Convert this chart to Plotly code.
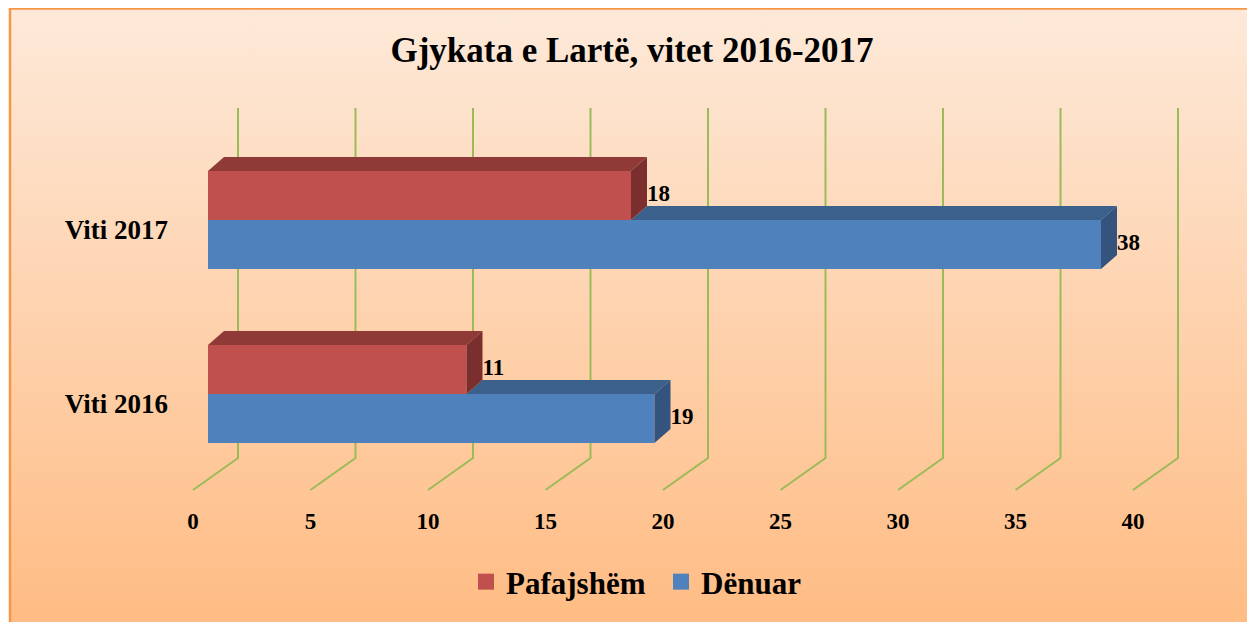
import base64
import plotly.graph_objects as go

# ---------------- data ----------------
categories = ["Viti 2016", "Viti 2017"]
series_names = ["Pafajshëm", "Dënuar"]
pafajshem = [11, 18]
denuar = [19, 38]
x_ticks = [0, 5, 10, 15, 20, 25, 30, 35, 40]
title_text = "Gjykata e Lartë, vitet 2016-2017"

# ---------------- style / geometry (page pixels) ----------------
OFF = 8                 # page body margin
W, H = 1255 - OFF, 622 - OFF
PX_PER_UNIT = 23.5      # horizontal pixels per value unit
X_ZERO_PX = 208         # page x of value 0 on bar front faces
Y_STEP_PX = 174         # pixels between category groups
Y_BASE_PX = 394         # page y of first group centre
L_PX = 175              # plot-area left edge (page)
B_PX = 505              # plot-area bottom edge (page)

RED, RED_TOP, RED_SIDE = "#C0504D", "#8F3A37", "#7A2E2D"
BLUE, BLUE_TOP, BLUE_SIDE = "#4F81BD", "#3C608C", "#34547D"
GRID = "#9BBB59"
FONT = "Liberation Serif"


def px_x(px):
    return (px - OFF) / W


def px_y(py):
    return 1 - (py - OFF) / H


def u_of(py):
    return (Y_BASE_PX - py) / Y_STEP_PX


bar_h = 49 / Y_STEP_PX
dx = 16 / PX_PER_UNIT
dy = 14 / Y_STEP_PX
grid_back = 30 / PX_PER_UNIT
grid_front = -15 / PX_PER_UNIT
grid_top_u, grid_back_u, grid_front_u = u_of(108), u_of(458), u_of(490)

x_range = [(L_PX - X_ZERO_PX) / PX_PER_UNIT, (1255 - X_ZERO_PX) / PX_PER_UNIT]
y_range = [u_of(B_PX), u_of(OFF)]

fig = go.Figure()

# front faces (bars)
pos = list(range(len(categories)))
fig.add_trace(go.Bar(orientation="h", x=denuar, y=[p - bar_h / 2 for p in pos],
                     width=bar_h, marker=dict(color=BLUE, line=dict(width=0)),
                     showlegend=False, hoverinfo="skip"))
fig.add_trace(go.Bar(orientation="h", x=pafajshem, y=[p + bar_h / 2 for p in pos],
                     width=bar_h, marker=dict(color=RED, line=dict(width=0)),
                     showlegend=False, hoverinfo="skip"))


def poly(xs, ys, color):
    fig.add_trace(go.Scatter(x=xs + [xs[0]], y=ys + [ys[0]], mode="lines",
                             fill="toself", fillcolor=color, line=dict(width=0, color=color),
                             showlegend=False, hoverinfo="skip"))


for p, r, b in zip(pos, pafajshem, denuar):
    tb = p                  # top of blue bar / bottom of red bar
    bb = p - bar_h          # bottom of blue bar
    tr = p + bar_h          # top of red bar
    start = min(r, b)
    # blue top (visible part) and side
    poly([start, b, b + dx, start + dx], [tb, tb, tb + dy, tb + dy], BLUE_TOP)
    poly([b, b + dx, b + dx, b], [tb, tb + dy, bb + dy, bb], BLUE_SIDE)
    # red top and side
    poly([0, r, r + dx, dx], [tr, tr, tr + dy, tr + dy], RED_TOP)
    poly([r, r + dx, r + dx, r], [tr, tr + dy, tb + dy, tb], RED_SIDE)

# data labels
lab_font = dict(family=FONT, size=23, color="black", weight="bold")
fig.add_trace(go.Scatter(x=[v + dx for v in pafajshem], y=[p + bar_h / 2 for p in pos],
                         mode="text", text=[str(v) for v in pafajshem],
                         textposition="middle right", textfont=lab_font,
                         showlegend=False, hoverinfo="skip"))
fig.add_trace(go.Scatter(x=[v + dx for v in denuar], y=[p - bar_h / 2 for p in pos],
                         mode="text", text=[str(v) for v in denuar],
                         textposition="middle right", textfont=lab_font,
                         showlegend=False, hoverinfo="skip"))

# legend entries
fig.add_trace(go.Scatter(x=[None], y=[None], mode="markers", name=series_names[0],
                         marker=dict(symbol="square", size=17, color=RED)))
fig.add_trace(go.Scatter(x=[None], y=[None], mode="markers", name=series_names[1],
                         marker=dict(symbol="square", size=17, color=BLUE)))

# gridlines (back wall + floor), below traces
for v in x_ticks:
    path = (f"M {v + grid_back} {grid_top_u} L {v + grid_back} {grid_back_u} "
            f"L {v + grid_front} {grid_front_u}")
    fig.add_shape(type="path", path=path, xref="x", yref="y",
                  line=dict(color=GRID, width=2), layer="below")

# gradient background + border
svg = ('<svg xmlns="http://www.w3.org/2000/svg" width="100" height="100" viewBox="0 0 100 100" '
       'preserveAspectRatio="none"><defs><linearGradient id="g" x1="0" y1="0" x2="0" y2="1">'
       '<stop offset="0" stop-color="#FDE9D9"/><stop offset="1" stop-color="#FFBC84"/>'
       '</linearGradient></defs><rect width="100" height="100" fill="url(#g)"/></svg>')
src = "data:image/svg+xml;base64," + base64.b64encode(svg.encode()).decode()
fig.add_layout_image(source=src, xref="paper", yref="paper", x=px_x(10), y=1,
                     sizex=1 - px_x(10), sizey=1, xanchor="left", yanchor="top",
                     sizing="stretch", layer="below")
fig.add_shape(type="rect", xref="paper", yref="paper", x0=px_x(10), x1=1.2,
              y0=-0.2, y1=px_y(8.5), line=dict(color="#F79646", width=2.5),
              fillcolor="rgba(0,0,0,0)", layer="above")

fig.update_layout(
    width=W, height=H,
    margin=dict(l=0, r=0, t=0, b=0),
    paper_bgcolor="white", plot_bgcolor="rgba(0,0,0,0)",
    barmode="overlay",
    title=dict(text=f"<b>{title_text}</b>", x=px_x(632), y=px_y(50),
               xanchor="center", yanchor="middle",
               font=dict(family=FONT, size=35, color="black")),
    xaxis=dict(domain=[px_x(L_PX), 1], range=x_range, showgrid=False, zeroline=False,
               showline=False, ticks="", tickvals=[v + grid_front for v in x_ticks],
               ticktext=[str(v) for v in x_ticks], ticklabelstandoff=0,
               tickfont=dict(family=FONT, size=23, color="black", weight="bold"),
               fixedrange=True),
    yaxis=dict(domain=[px_y(B_PX), 1], range=y_range, showgrid=False, zeroline=False,
               showline=False, ticks="", tickvals=[p - 10 / Y_STEP_PX for p in pos],
               ticktext=categories, ticklabelstandoff=6,
               tickfont=dict(family=FONT, size=27, color="black", weight="bold"),
               fixedrange=True),
    legend=dict(orientation="h", x=px_x(466), y=px_y(582), xanchor="left", yanchor="middle",
                entrywidth=150, entrywidthmode="pixels",
                font=dict(family=FONT, size=31, color="black", weight="bold"),
                bgcolor="rgba(0,0,0,0)", itemclick=False, itemdoubleclick=False),
    showlegend=True,
)

fig.write_html("out.html")
